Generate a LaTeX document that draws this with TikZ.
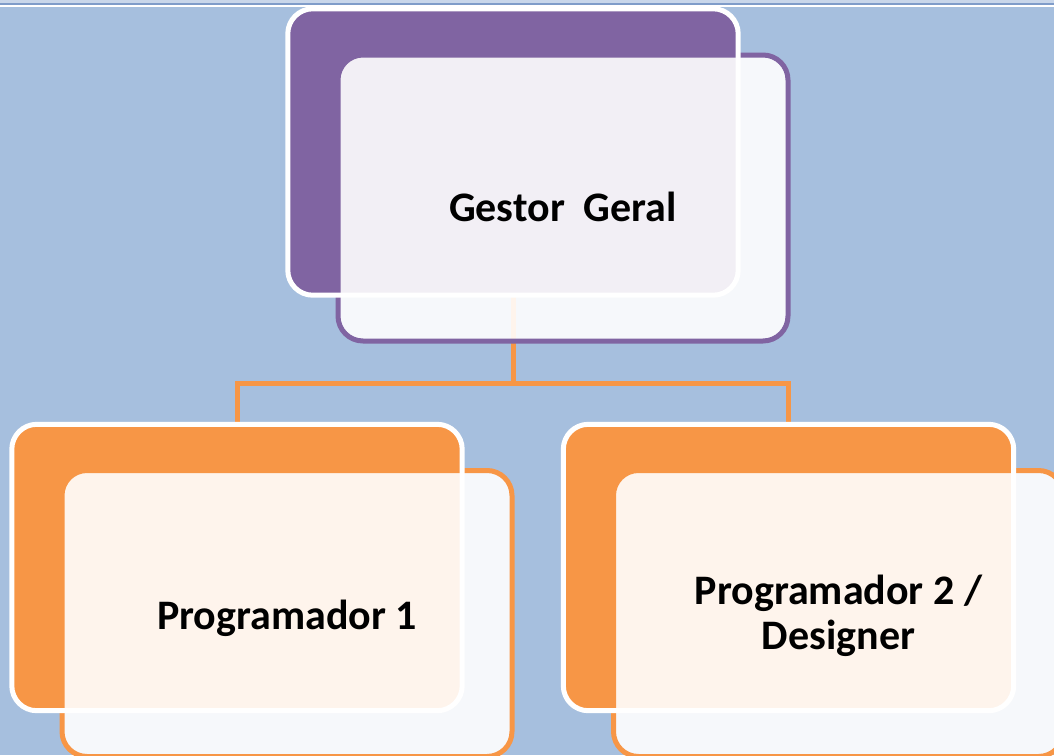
\documentclass[tikz,border=0pt]{standalone}
\usepackage{fontspec}
\setmainfont{Carlito}
\usepackage{tikz}
\usetikzlibrary{positioning}
\definecolor{bgblue}{HTML}{A6BFDE}
\definecolor{stripblue}{HTML}{C8D6EA}
\definecolor{lineblue}{HTML}{7F9CC9}
\definecolor{accpurple}{HTML}{8064A2}
\definecolor{accorange}{HTML}{F79646}

\begin{document}
\begin{tikzpicture}[x=1pt,y=-1pt,
    backbox/.style={rounded corners=25pt, minimum width=450pt, minimum height=286pt, inner sep=0pt},
    frontbox/.style={draw, line width=5pt, fill=white, fill opacity=0.9, rounded corners=25pt, minimum width=450pt, minimum height=286pt, inner sep=0pt},
    boxedge/.style={draw=white, line width=5pt, rounded corners=25pt},
    link/.style={draw=accorange, line width=5pt},
    boxtext/.style={font=\bfseries\fontsize{42}{45}\selectfont, align=center, text=black}]
    \useasboundingbox (0,0) rectangle (1054,755);
    \clip (0,0) rectangle (1054,755);
    \fill[bgblue] (0,0) rectangle (1054,755);
    \fill[stripblue] (0,0) rectangle (1054,3);
    \fill[lineblue] (0,3) rectangle (1054,5);
    \fill[white] (0,5) rectangle (1054,7);
    % back boxes
    \node[backbox, fill=accpurple] (gb) at (513,152) {};
    \node[backbox, fill=accorange] (p1b) at (237,567.5) {};
    \node[backbox, fill=accorange] (p2b) at (788.5,567.5) {};
    % connectors
    \draw[link] (gb.south) -- ++(0,88) coordinate (bar) -| (p1b.north);
    \draw[link] (bar) -| (p2b.north);
    % front boxes
    \node[frontbox, draw=accpurple] (gf) at ([shift={(50,46)}]gb) {};
    \node[frontbox, draw=accorange] (p1f) at ([shift={(50,46)}]p1b) {};
    \node[frontbox, draw=accorange] (p2f) at ([shift={(50,46)}]p2b) {};
    \foreach \b in {gb,p1b,p2b}
        \draw[boxedge] (\b.north west) rectangle (\b.south east);
    % texts
    \node[boxtext, anchor=base] (gt) at ([yshift=-23pt]gf.center) {Gestor~~Geral};
    \node[boxtext, anchor=base] (p1t) at ([yshift=-15.5pt]p1f.center) {Programador 1};
    \node[boxtext] (p2t) at ([yshift=-2.5pt]p2f.center) {Programador 2 /\\Designer};
\end{tikzpicture}
\end{document}
